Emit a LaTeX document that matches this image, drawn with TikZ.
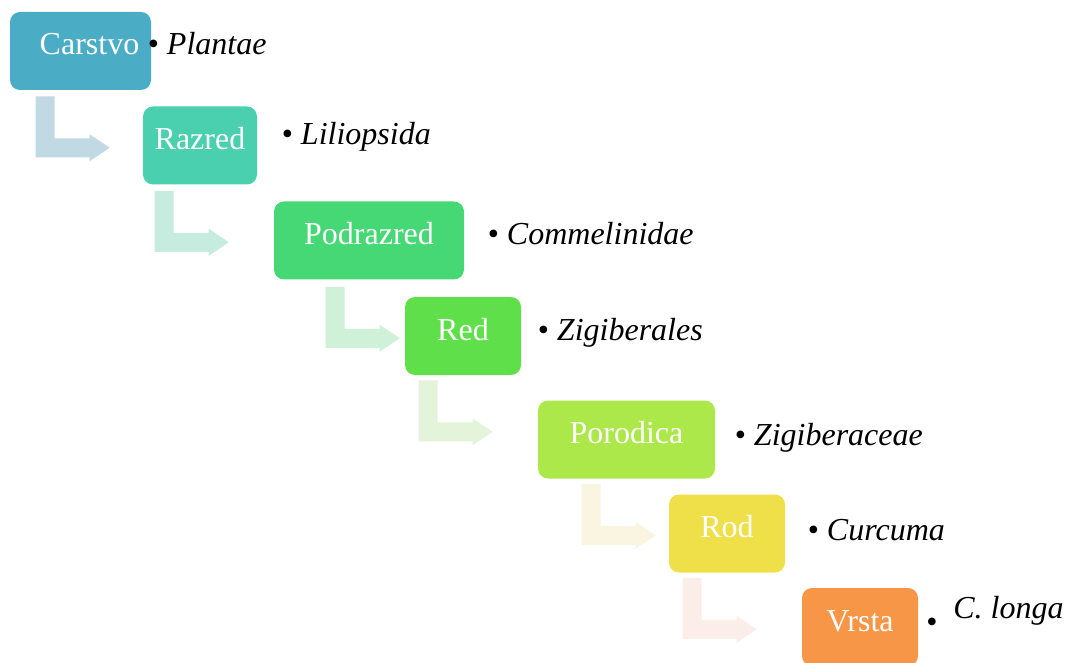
\documentclass[tikz,border=0pt]{standalone}
\usepackage{fontspec}
\setmainfont{Liberation Serif}
\usepackage{tikz}
\usetikzlibrary{calc}

\definecolor{boxA}{HTML}{4BACC6}
\definecolor{boxB}{HTML}{4ACFAF}
\definecolor{boxC}{HTML}{47D876}
\definecolor{boxD}{HTML}{5FE04A}
\definecolor{boxE}{HTML}{ACE84A}
\definecolor{boxF}{HTML}{EFE04A}
\definecolor{boxG}{HTML}{F79646}
\definecolor{arrA}{HTML}{C0D9E2}
\definecolor{arrB}{HTML}{C6EBDF}
\definecolor{arrC}{HTML}{CFF1D7}
\definecolor{arrD}{HTML}{E4F4DA}
\definecolor{arrE}{HTML}{F9F5E0}
\definecolor{arrF}{HTML}{FBEDE7}

\tikzset{
	rankbox/.style={rounded corners=7.5pt, minimum height=58.5pt, inner sep=0pt, text=white, text height=18pt, text depth=12pt, font=\fontsize{24}{28}\selectfont},
	taxon/.style={anchor=base west, inner sep=0pt, font=\fontsize{24}{28}\selectfont},
	bentarrow/.pic={
		\fill[pic actions] (0, 0) -- (19, 0) -- (19, 42) -- (54, 42) -- (54, 38) -- (74, 51.5) -- (54, 65) -- (54, 61) -- (0, 61) -- cycle;
	}
}

\begin{document}
\begin{tikzpicture}[x=0.75pt, y=-0.75pt]
				\useasboundingbox (0, 0) rectangle (1065, 663);
				\clip (0, 0) rectangle (1065, 663);
				% Boxes, arrows and names:
				\node[rankbox, fill=boxA, minimum width=105.75pt](carstvo) at (80.5, 51){\hspace*{13.5pt}Carstvo};
				\node[rankbox, fill=boxB, minimum width=85.5pt](razred) at (200, 145.5){Razred};
				\node[rankbox, fill=boxC, minimum width=142.5pt](podrazred) at (369, 240.5){Podrazred};
				\node[rankbox, fill=boxD, minimum width=87pt](red) at (463, 336){Red};
				\node[rankbox, fill=boxE, minimum width=132.75pt](porodica) at (626.5, 439.5){Porodica};
				\node[rankbox, fill=boxF, minimum width=87pt](rod) at (727, 533.5){Rod};
				\node[rankbox, fill=boxG, minimum width=87pt](vrsta) at (860, 627){Vrsta};
				\pic[fill=arrA] at ($(carstvo.south west)+(26, 6)$){bentarrow};
				\pic[fill=arrB] at ($(razred.south west)+(12, 6)$){bentarrow};
				\pic[fill=arrC] at ($(podrazred.south west)+(52, 7)$){bentarrow};
				\pic[fill=arrD] at ($(red.south west)+(14, 5)$){bentarrow};
				\pic[fill=arrE] at ($(porodica.south west)+(44, 5)$){bentarrow};
				\pic[fill=arrF] at ($(rod.south west)+(14, 5)$){bentarrow};
				\node[taxon](plantae) at (147.5, 55){\textbullet\ \textit{Plantae}};
				\node[taxon](liliopsida) at (281.5, 145){\textbullet\ \textit{Liliopsida}};
				\node[taxon](commelinidae) at (487.5, 245){\textbullet\ \textit{Commelinidae}};
				\node[taxon](zigiberales) at (537.5, 340){\textbullet\ \textit{Zigiberales}};
				\node[taxon](zigiberaceae) at (734.5, 445){\textbullet\ \textit{Zigiberaceae}};
				\node[taxon](curcuma) at (807.5, 540){\textbullet\ \textit{Curcuma}};
				\node[font=\fontsize{24}{28}\selectfont, inner sep=0pt](longadot) at (932, 625){\textbullet};
				\node[taxon](longa) at (953, 618){\textit{C. longa}};
			\end{tikzpicture}
\end{document}
